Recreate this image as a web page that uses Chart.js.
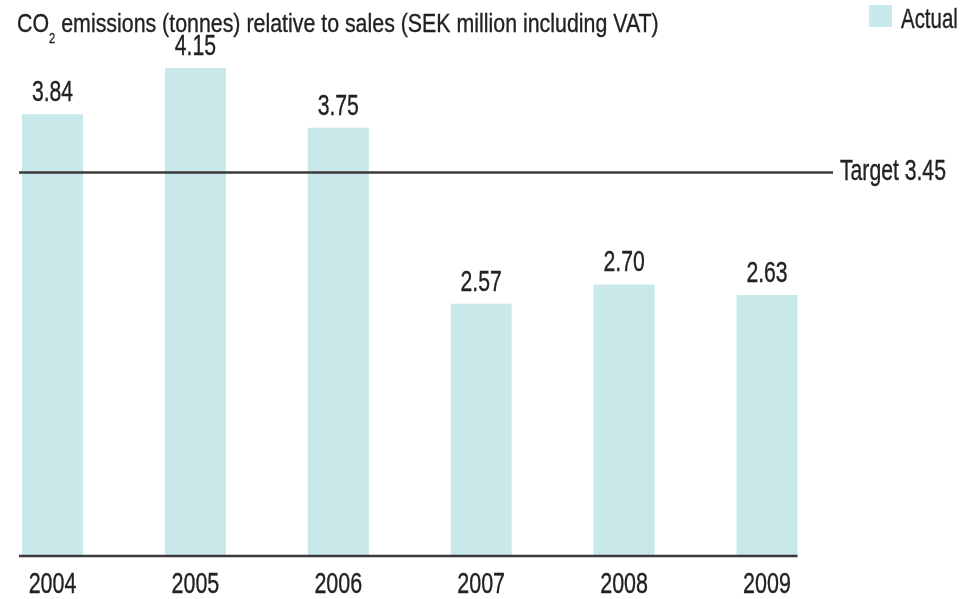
<!DOCTYPE html>
<html>
<head>
<meta charset="utf-8">
<script src="https://cdn.jsdelivr.net/npm/chart.js@4"></script>
<style>
  html, body { margin: 0; padding: 0; background: #ffffff; }
  #wrap { width: 966px; height: 599px; position: relative; }
</style>
</head>
<body>
<div id="wrap"><canvas id="c" width="966" height="599"></canvas></div>
<script>
// ---- data ----
const years = [2004, 2005, 2006, 2007, 2008, 2009];
const yearLabels = ['2004', '2005', '2006', '2007', '2008', '2009'];
const actual = [3.84, 4.15, 3.75, 2.57, 2.70, 2.63];
const target = 3.45;
const seriesName = 'Actual';
const targetLabel = 'Target';
const titleParts = ['CO', '2', ' emissions (tonnes) relative to sales (SEK million including VAT)'];

// ---- styles ----
const FONT = "'Liberation Sans', Arial, sans-serif";
const TEXT = '#222222';
const BAR = '#c9e8ea';
const LINE = '#3a3a3a';

function drawText(ctx, str, x, y, size, sx, align) {
  ctx.save();
  ctx.font = size + 'px ' + FONT;
  ctx.fillStyle = TEXT;
  ctx.strokeStyle = TEXT;
  ctx.lineWidth = 0.35;
  ctx.textAlign = align || 'left';
  ctx.textBaseline = 'alphabetic';
  ctx.translate(x, y);
  ctx.scale(sx, 1);
  ctx.fillText(str, 0, 0);
  ctx.strokeText(str, 0, 0);
  const w = ctx.measureText(str).width * sx;
  ctx.restore();
  return w;
}

const overlay = {
  id: 'overlay',
  afterDatasetsDraw(chart) {
    const ctx = chart.ctx;
    const area = chart.chartArea;
    const meta = chart.getDatasetMeta(0);
    const ys = chart.scales.y;
    // value labels and year labels
    meta.data.forEach((bar, i) => {
      drawText(ctx, actual[i].toFixed(2), bar.x, bar.y - 13, 29, 0.73, 'center');
      drawText(ctx, yearLabels[i], bar.x, area.bottom + 37, 29, 0.74, 'center');
    });
    ctx.save();
    // target line
    const ty = ys.getPixelForValue(target);
    ctx.strokeStyle = LINE;
    ctx.lineWidth = 2.5;
    ctx.beginPath();
    ctx.moveTo(area.left, ty);
    ctx.lineTo(area.right, ty);
    ctx.stroke();
    // baseline
    const last = meta.data[meta.data.length - 1];
    ctx.beginPath();
    ctx.moveTo(area.left, area.bottom);
    ctx.lineTo(last.x + last.width / 2, area.bottom);
    ctx.stroke();
    ctx.restore();
    drawText(ctx, targetLabel + ' ' + target.toFixed(2), area.right + 7, ty + 7, 29, 0.73, 'left');
  },
  afterDraw(chart) {
    const ctx = chart.ctx;
    // title with subscript
    let x = 17;
    const base = 32;
    x += drawText(ctx, titleParts[0], x, base, 26.5, 0.806, 'left');
    x += drawText(ctx, titleParts[1], x, base + 11, 15, 0.75, 'left');
    drawText(ctx, titleParts[2], x, base, 26.5, 0.806, 'left');
    // legend
    const ds = chart.data.datasets[0];
    ctx.save();
    ctx.fillStyle = ds.backgroundColor;
    ctx.fillRect(869, 5, 23, 22);
    ctx.restore();
    drawText(ctx, ds.label, 901, 28, 28, 0.73, 'left');
  }
};

new Chart(document.getElementById('c'), {
  type: 'bar',
  data: {
    datasets: [{
      label: seriesName,
      data: years.map((yr, i) => ({ x: yr, y: actual[i] })),
      backgroundColor: BAR,
      borderWidth: 0,
      categoryPercentage: 1.0,
      barPercentage: 0.427
    }]
  },
  options: {
    responsive: false,
    animation: false,
    devicePixelRatio: 1,
    layout: { padding: { left: 19, right: 0, top: 50, bottom: 0 } },
    plugins: {
      title: { display: false },
      tooltip: { enabled: false },
      legend: { display: false }
    },
    scales: {
      x: {
        type: 'linear',
        offset: false,
        min: 2003.7656,
        max: 2009.462,
        grid: { display: false, drawTicks: false },
        border: { display: false },
        afterBuildTicks: (s) => { s.ticks = years.map(v => ({ value: v })); },
        ticks: { display: false },
        afterFit: (s) => { s.height = 43; }
      },
      y: {
        position: 'right',
        min: 0.880,
        max: 4.2714,
        grid: { display: false, drawTicks: false },
        border: { display: false },
        ticks: { display: false },
        afterFit: (s) => { s.width = 133; }
      }
    }
  },
  plugins: [overlay]
});
</script>
</body>
</html>
